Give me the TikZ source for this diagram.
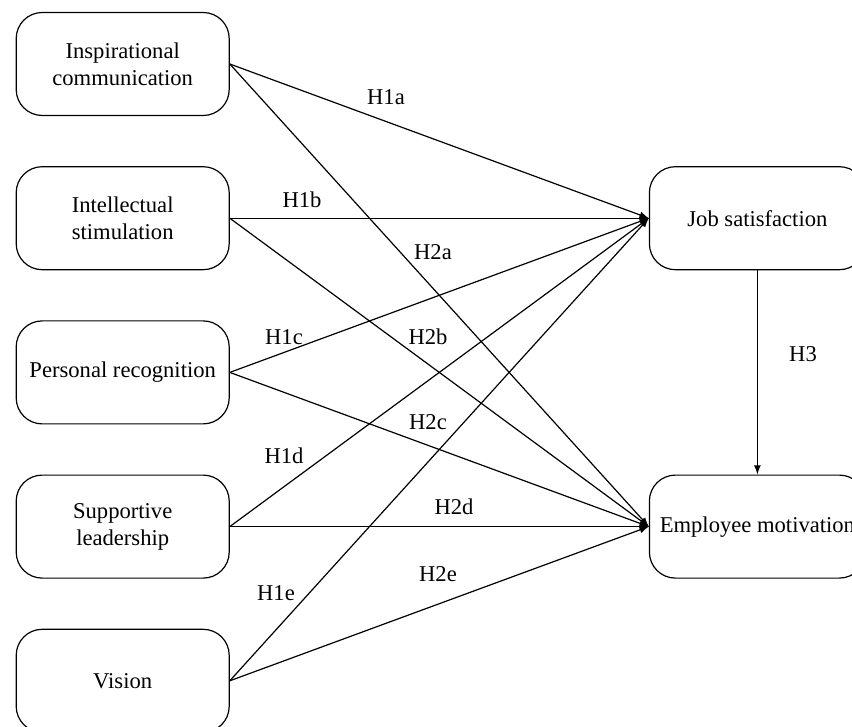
\documentclass[tikz,border=0pt]{standalone}
\usepackage{fontspec}
\setmainfont{Liberation Serif}
\usetikzlibrary{arrows,positioning}

\begin{document}
\begin{tikzpicture}[x=0.5pt,y=-0.5pt,line width=0.6pt,font=\fontsize{11.3}{13.5}\selectfont]
\tikzset{factor/.style={rectangle,draw,rounded corners=13pt,minimum width=106.5pt,minimum height=51.5pt,align=center,inner sep=2pt}}
\tikzset{outcome/.style={factor,minimum width=108pt}}
\tikzset{hyp/.style={inner sep=0pt}}

\useasboundingbox (0,0) rectangle (852,727);

\node [factor] (ic) at (122.7,64) {Inspirational\\communication};
\node [factor, below=25pt of ic] (is) {Intellectual\\stimulation};
\node [factor, below=25pt of is] (pr) {Personal recognition};
\node [factor, below=25pt of pr] (sl) {Supportive\\leadership};
\node [factor, below=25pt of sl] (vi) {Vision};
\node [outcome, right=209.5pt of is] (js) {Job satisfaction};
\node [outcome, right=209.5pt of sl] (em) {Employee motivation};

\begin{scope}[->,>=latex]

\foreach \src in {ic,is,pr,sl,vi}{%
\draw (\src.east) -- (js.west);
\draw (\src.east) -- (em.west);}

\draw (js) -- (em);

\end{scope}

\node [hyp] (h1a) at (386,97) {H1a};
\node [hyp] (h1b) at (302,200) {H1b};
\node [hyp] (h1c) at (284,337) {H1c};
\node [hyp] (h1d) at (284,456) {H1d};
\node [hyp] (h1e) at (276,593) {H1e};
\node [hyp] (h2a) at (433,252) {H2a};
\node [hyp] (h2b) at (428,337) {H2b};
\node [hyp] (h2c) at (428,422) {H2c};
\node [hyp] (h2d) at (454,507) {H2d};
\node [hyp] (h2e) at (438,574) {H2e};
\node [hyp] (h3) at (803,354) {H3};
\end{tikzpicture}
\end{document}
